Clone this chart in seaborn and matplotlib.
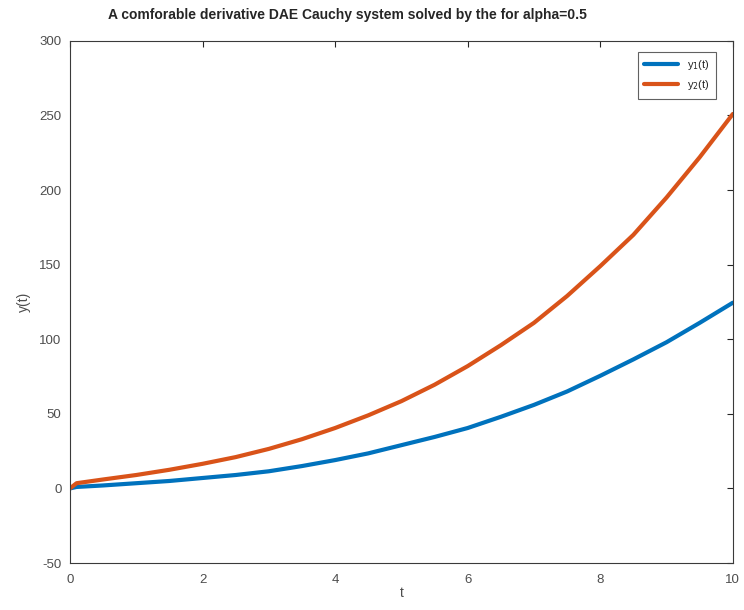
import numpy as np
import matplotlib
matplotlib.use("Agg")
import matplotlib.pyplot as plt
import seaborn as sns
import pandas as pd

t = [0, 0.1, 0.5, 1, 1.5, 2, 2.5, 3, 3.5, 4, 4.5, 5, 5.5, 6, 6.5, 7, 7.5, 8, 8.5, 9, 9.5, 10]
y1 = [0, 1.0, 2.0, 3.5, 5.0, 7.0, 9.0, 11.5, 15.0, 19.0, 23.5, 29.0, 34.5, 40.5, 48.0, 56.0, 65.0, 75.5, 86.5, 98.0, 111.0, 124.5]
y2 = [0, 3.5, 6.0, 9.0, 12.5, 16.5, 21.0, 26.5, 33.0, 40.5, 49.0, 58.5, 69.5, 82.0, 96.0, 111.0, 129.0, 149.0, 170.0, 195.0, 222.0, 251.0]

df = pd.DataFrame({"t": t, "y1": y1, "y2": y2})

sns.set_style("white")
plt.rcParams['font.family'] = ['Liberation Sans', 'DejaVu Sans']
plt.rcParams['axes.unicode_minus'] = False

fig = plt.figure(figsize=(7.44, 6.10), dpi=100)
ax = fig.add_axes([0.094, 0.077, 0.891, 0.856])

sns.lineplot(data=df, x="t", y="y1", ax=ax, color="#0072BD", linewidth=3, label=r"y$_1$(t)")
sns.lineplot(data=df, x="t", y="y2", ax=ax, color="#D95319", linewidth=3, label=r"y$_2$(t)")

ax.set_xlim(0, 10)
ax.set_ylim(-50, 300)
ax.set_xticks([0, 2, 4, 6, 8, 10])
ax.set_yticks([-50, 0, 50, 100, 150, 200, 250, 300])
ax.tick_params(direction="in", top=True, right=True, length=4, width=0.8,
               labelsize=9.5, colors="#262626", labelcolor="#4d4d4d", pad=6)
ax.tick_params(axis="x", pad=8)
for s in ax.spines.values():
    s.set_color("#3a3a3a")
    s.set_linewidth(0.8)

ax.set_xlabel("t", fontsize=10, color="#4d4d4d", labelpad=0)
ax.set_ylabel("y(t)", fontsize=10, color="#4d4d4d", labelpad=6)
ax.set_title("A comforable derivative DAE Cauchy system solved by the for alpha=0.5",
             fontsize=10, fontweight="bold", pad=16, x=0.418)

leg = ax.legend(loc="upper right", fontsize=8, frameon=True, fancybox=False,
                handlelength=3, borderpad=0.6, bbox_to_anchor=(0.983, 0.99))
leg.get_frame().set_edgecolor("#3a3a3a")
leg.get_frame().set_linewidth(0.8)
for txt in leg.get_texts():
    txt.set_color("#262626")

fig.savefig("out.png", dpi=100)
